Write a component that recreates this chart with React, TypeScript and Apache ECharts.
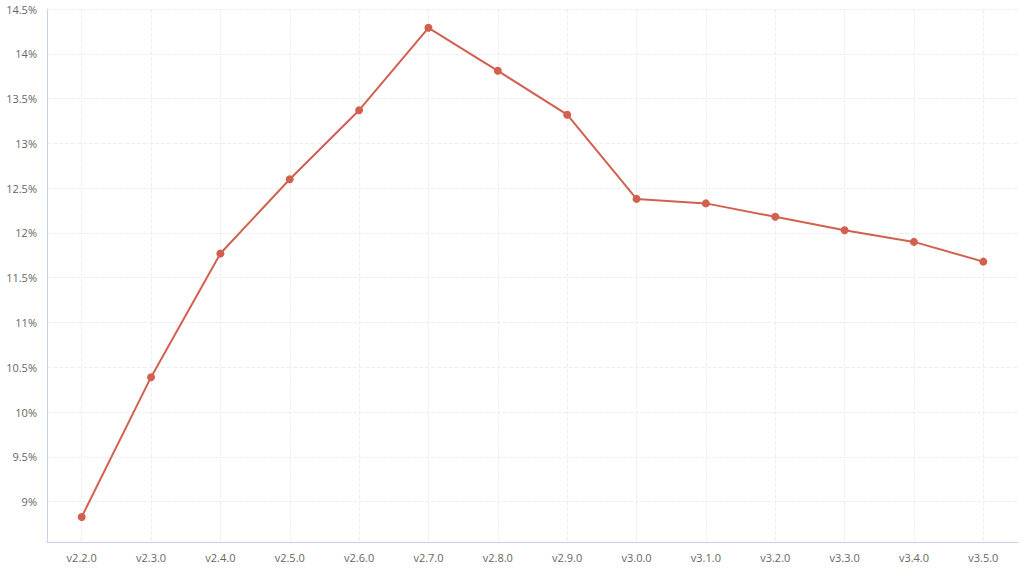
import React, { useEffect, useRef } from "react";
import * as echarts from "echarts";

const versions = ["v2.2.0", "v2.3.0", "v2.4.0", "v2.5.0", "v2.6.0", "v2.7.0", "v2.8.0", "v2.9.0", "v3.0.0", "v3.1.0", "v3.2.0", "v3.3.0", "v3.4.0", "v3.5.0"];
const rates = [8.83, 10.39, 11.77, 12.6, 13.37, 14.29, 13.81, 13.32, 12.38, 12.33, 12.18, 12.03, 11.9, 11.68];
const yMin = 8.55;
const yMax = 14.5;

export default function App() {
  const ref = useRef<HTMLDivElement>(null);
  useEffect(() => {
    if (!ref.current) return;
    const chart = echarts.init(ref.current, undefined, { renderer: "svg" });
    chart.setOption({
      animation: false,
      grid: { left: 47, right: 6, top: 9, bottom: 27, containLabel: false },
      xAxis: {
        type: "category",
        data: versions,
        boundaryGap: true,
        axisLine: { show: true, lineStyle: { color: "#c7d2ea" } },
        axisTick: { show: false, alignWithLabel: true },
        axisLabel: { color: "#666", fontSize: 11, margin: 10, fontFamily: "Open Sans" },
        splitLine: { show: true, alignWithLabel: true, lineStyle: { color: "#eeeeee", type: "dashed" } },
      },
      yAxis: {
        type: "value",
        min: yMin,
        max: yMax,
        splitNumber: 12,
        axisLine: { show: true, lineStyle: { color: "#c7d2ea" } },
        axisTick: { show: false },
        axisLabel: { color: "#666", fontSize: 11, formatter: "{value}%", showMinLabel: false, margin: 10, fontFamily: "Open Sans" },
        splitLine: { show: true, lineStyle: { color: "#eeeeee", type: "dashed" } },
      },
      series: [
        {
          type: "line",
          data: rates,
          symbol: "circle",
          symbolSize: 8,
          itemStyle: { color: "#d2604f" },
          lineStyle: { color: "#d2604f", width: 2 },
        },
      ],
    });
    return () => chart.dispose();
  }, []);
  return <div ref={ref} style={{ width: 1024, height: 569, position: "absolute", left: 0, top: 0 }} />;
}
